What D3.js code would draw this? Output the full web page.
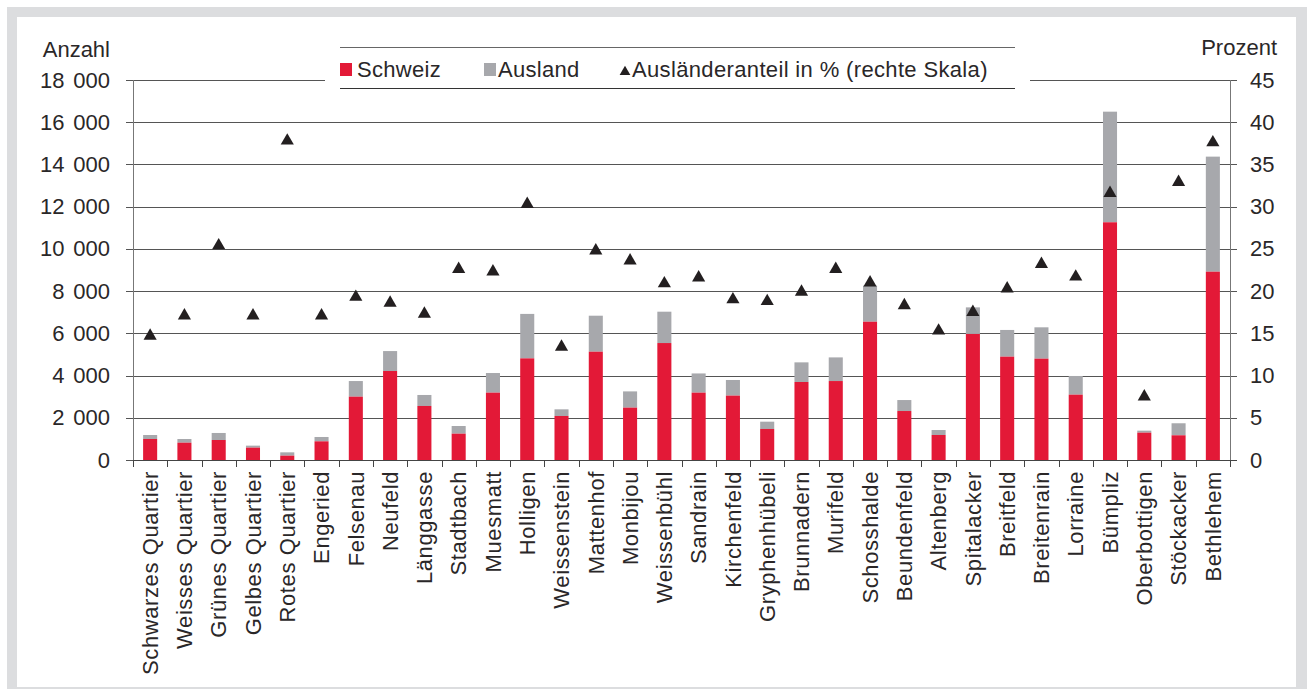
<!DOCTYPE html>
<html>
<head>
<meta charset="utf-8">
<script src="https://cdn.jsdelivr.net/npm/d3@7"></script>
<style>
  html, body { margin: 0; padding: 0; background: #fff; }
  svg { display: block; }
  text { font-family: "Liberation Sans", Arial, sans-serif; fill: #2a2728; }
</style>
</head>
<body>
<svg id="chart" width="1307" height="689"></svg>
<script>
const categories = ["Schwarzes Quartier","Weisses Quartier","Grünes Quartier","Gelbes Quartier","Rotes Quartier","Engeried","Felsenau","Neufeld","Länggasse","Stadtbach","Muesmatt","Holligen","Weissenstein","Mattenhof","Monbijou","Weissenbühl","Sandrain","Kirchenfeld","Gryphenhübeli","Brunnadern","Murifeld","Schosshalde","Beundenfeld","Altenberg","Spitalacker","Breitfeld","Breitenrain","Lorraine","Bümpliz","Oberbottigen","Stöckacker","Bethlehem"];
const schweiz = [995,820,947,585,205,884,3000,4215,2560,1247,3190,4815,2085,5130,2480,5540,3190,3050,1470,3695,3740,6550,2320,1185,5970,4895,4800,3095,11260,1295,1170,8920];
const total = [1184,995,1280,680,363,1090,3740,5160,3080,1610,4120,6920,2400,6835,3250,7025,4100,3790,1815,4625,4860,8260,2840,1420,7230,6160,6285,3980,16500,1390,1740,14370];
const ausland = total.map((t, i) => t - schweiz[i]);
const anteil = [14.7,17.1,25.4,17.1,37.8,17.1,19.3,18.6,17.3,22.6,22.3,30.3,13.4,24.8,23.6,20.9,21.6,19.0,18.8,19.9,22.6,21.0,18.3,15.3,17.5,20.3,23.2,21.7,31.6,7.5,32.9,37.6];
const leftTicks = [0,2000,4000,6000,8000,10000,12000,14000,16000,18000];
const rightTicks = [0,5,10,15,20,25,30,35,40,45];
const seriesNames = ["Schweiz","Ausland","Ausländeranteil in % (rechte Skala)"];

const RED = "#e31937", GREY = "#a7a8ac", DARK = "#231f20";
const svg = d3.select("#chart");

// frame
svg.append("rect").attr("x",7).attr("y",7).attr("width",1300).attr("height",682).attr("fill","#dcdddf");
svg.append("rect").attr("x",17).attr("y",17).attr("width",1279).attr("height",670).attr("fill","#fff");

const L = 133, R = 1230, T = 80, B = 460;
const x = d3.scaleBand().domain(categories).range([L, R]).paddingInner(0.59).paddingOuter(0.295);
const y = d3.scaleLinear().domain([0, 18000]).range([B, T]);
const y2 = d3.scaleLinear().domain([0, 45]).range([B, T]);
const fs = 22;

// gridlines
const g = svg.append("g");
leftTicks.forEach(t => {
  const yy = Math.round(y(t)) + 0.5;
  if (t === 18000) {
    g.append("line").attr("x1",126).attr("x2",325).attr("y1",yy).attr("y2",yy).attr("stroke","#555");
    g.append("line").attr("x1",1030).attr("x2",1237).attr("y1",yy).attr("y2",yy).attr("stroke","#555");
  } else {
    g.append("line").attr("x1",126).attr("x2",1237).attr("y1",yy).attr("y2",yy).attr("stroke","#555");
  }
});

// left axis
const yAxis = d3.axisLeft(y).tickValues(leftTicks).tickSize(0).tickPadding(23)
  .tickFormat(d => d3.format(",")(d).replace(/,/g, "\u2009\u2009"));
const ga = svg.append("g").attr("transform", `translate(${L},0)`).call(yAxis);
ga.select(".domain").remove();
ga.selectAll("text").attr("font-size", fs).attr("fill", "#2a2728").attr("font-family", "Liberation Sans, Arial, sans-serif");
svg.append("line").attr("x1",L+0.5).attr("x2",L+0.5).attr("y1",T).attr("y2",B).attr("stroke","#777");

// right axis
const y2Axis = d3.axisRight(y2).tickValues(rightTicks).tickSize(0).tickPadding(20);
const gr = svg.append("g").attr("transform", `translate(${R},0)`).call(y2Axis);
gr.select(".domain").remove();
gr.selectAll("text").attr("font-size", fs).attr("fill", "#2a2728").attr("font-family", "Liberation Sans, Arial, sans-serif");
svg.append("line").attr("x1",R+0.5).attr("x2",R+0.5).attr("y1",T).attr("y2",B).attr("stroke","#777");

// axis titles
svg.append("text").attr("x",110).attr("y",57).attr("text-anchor","end").attr("font-size",fs).text("Anzahl");
svg.append("text").attr("x",1277).attr("y",55).attr("text-anchor","end").attr("font-size",fs).text("Prozent");

// bars
const bars = svg.append("g");
categories.forEach((c, i) => {
  bars.append("rect").attr("x", x(c)).attr("width", x.bandwidth())
    .attr("y", y(total[i])).attr("height", y(schweiz[i]) - y(total[i])).attr("fill", GREY);
  bars.append("rect").attr("x", x(c)).attr("width", x.bandwidth())
    .attr("y", y(schweiz[i])).attr("height", B - y(schweiz[i])).attr("fill", RED);
});

// bottom axis
svg.append("line").attr("x1",L).attr("x2",R+7).attr("y1",B+0.5).attr("y2",B+0.5).attr("stroke","#444");
const step = x.step();
for (let i = 0; i <= categories.length; i++) {
  const xx = Math.round(L + i * step) + 0.5;
  svg.append("line").attr("x1",xx).attr("x2",xx).attr("y1",B).attr("y2",B+7).attr("stroke","#444");
}
categories.forEach(c => {
  const cx = x(c) + x.bandwidth()/2;
  svg.append("text").attr("transform", `translate(${cx},471) rotate(-90)`)
    .attr("text-anchor","end").attr("dy","0.35em").attr("font-size",fs)
    .attr("letter-spacing","0.6px").text(c);
});

// triangles
const tri = d3.symbol().type(d3.symbolTriangle).size(75);
categories.forEach((c, i) => {
  svg.append("path").attr("d", tri())
    .attr("transform", `translate(${x(c) + x.bandwidth()/2},${y2(anteil[i])})`).attr("fill", DARK);
});

// legend
const lg = svg.append("g");
lg.append("rect").attr("x",325).attr("y",44).attr("width",705).attr("height",48).attr("fill","#fff");
lg.append("line").attr("x1",340).attr("x2",1015).attr("y1",47.5).attr("y2",47.5).attr("stroke","#666");
lg.append("line").attr("x1",340).attr("x2",1015).attr("y1",88.5).attr("y2",88.5).attr("stroke","#333");
lg.append("rect").attr("x",340).attr("y",63).attr("width",12).attr("height",13).attr("fill",RED);
lg.append("text").attr("x",357).attr("y",77).attr("font-size",fs).attr("letter-spacing","0.3px").text(seriesNames[0]);
lg.append("rect").attr("x",484).attr("y",63).attr("width",12).attr("height",13).attr("fill",GREY);
lg.append("text").attr("x",498).attr("y",77).attr("font-size",fs).attr("letter-spacing","0.3px").text(seriesNames[1]);
lg.append("path").attr("d", d3.symbol().type(d3.symbolTriangle).size(50)()).attr("transform","translate(625,72)").attr("fill",DARK);
lg.append("text").attr("x",632).attr("y",77).attr("font-size",fs).attr("letter-spacing","0.35px").text(seriesNames[2]);
</script>
</body>
</html>
